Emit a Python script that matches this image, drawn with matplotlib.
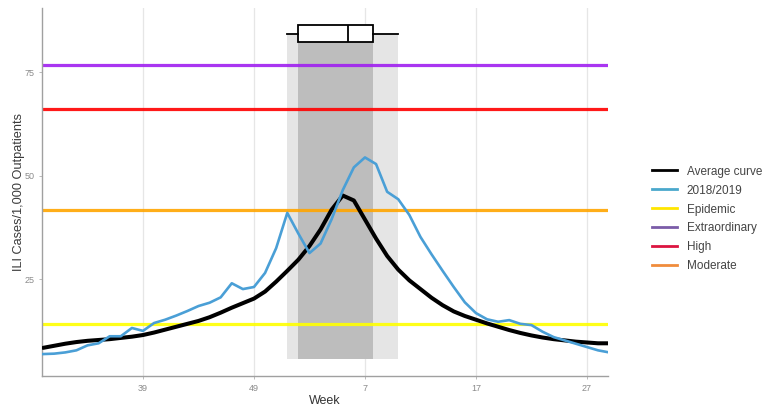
import numpy as np
import matplotlib.pyplot as plt
from matplotlib.lines import Line2D

plt.rcParams['font.family'] = ['Liberation Sans', 'DejaVu Sans']

# --- Data (week index 0 = week 30) ---
week_idx = np.arange(52)
week_labels = [(29 + i) % 52 + 1 for i in week_idx]

avg_curve = [8.4, 8.9, 9.4, 9.8, 10.1, 10.3, 10.5, 10.8, 11.1, 11.5,
             12.1, 12.8, 13.5, 14.2, 14.9, 15.8, 16.9, 18.1, 19.2, 20.3,
             22.0, 24.4, 27.0, 29.7, 33.0, 37.0, 41.8, 45.2, 44.0, 39.4,
             34.8, 30.6, 27.3, 24.7, 22.6, 20.5, 18.7, 17.2, 16.1, 15.2,
             14.3, 13.5, 12.7, 12.0, 11.4, 10.9, 10.5, 10.2, 9.9, 9.7,
             9.5, 9.5]
season_2018 = [6.9, 7.0, 7.3, 7.8, 9.0, 9.5, 11.2, 11.2, 13.2, 12.5,
               14.4, 15.2, 16.2, 17.3, 18.5, 19.3, 20.6, 24.0, 22.6, 23.1,
               26.5, 32.5, 41.0, 36.0, 31.3, 33.6, 39.5, 46.5, 52.0, 54.4,
               52.8, 46.1, 44.3, 40.5, 35.2, 31.0, 27.0, 23.1, 19.4, 16.8,
               15.3, 14.7, 15.1, 14.2, 13.9, 12.3, 11.0, 10.2, 9.4, 8.6,
               7.8, 7.3]

thresholds = {'Epidemic': 14.05, 'Extraordinary': 76.7, 'High': 66.0, 'Moderate': 41.8}
threshold_colors = {'Epidemic': '#ffff00', 'Extraordinary': '#a020f0',
                    'High': '#ff0000', 'Moderate': '#ffa500'}
legend_colors = ['#000000', '#4aa8cc', '#ffe600', '#7b5ca8', '#dc1440', '#f08c3c']
legend_labels = ['Average curve', '2018/2019', 'Epidemic', 'Extraordinary', 'High', 'Moderate']

# peak week distribution (week index)
peak_whislo, peak_q1, peak_med, peak_q3, peak_whishi = 22, 23, 27.5, 29.7, 32
band_bottom, band_top = 5.7, 84.3

tick_idx = [9, 19, 29, 39, 49]

# --- Plot ---
fig = plt.figure(figsize=(7.67, 4.09), dpi=100)
ax = fig.add_axes([42 / 767, 33 / 409, 566 / 767, 368 / 409])

ax.fill_between([peak_whislo, peak_whishi], band_bottom, band_top, color='#e5e5e5', lw=0, zorder=1)
ax.fill_between([peak_q1, peak_q3], band_bottom, band_top, color='#bdbdbd', lw=0, zorder=1)

for name, val in thresholds.items():
    ax.axhline(val, color=threshold_colors[name], lw=2.3, alpha=0.9, zorder=2)

ax.plot(week_idx, avg_curve, color='black', lw=2.9, zorder=3,
        solid_joinstyle='round', solid_capstyle='round')
ax.plot(week_idx, season_2018, color='#4a9fd6', lw=1.9, zorder=4, solid_joinstyle='round')

stats = [dict(whislo=peak_whislo, q1=peak_q1, med=peak_med, q3=peak_q3, whishi=peak_whishi)]
ax.bxp(stats, positions=[band_top], widths=4.1, orientation='horizontal',
       showfliers=False, showcaps=False, patch_artist=True,
       boxprops=dict(facecolor='white', edgecolor='black', lw=1.3),
       whiskerprops=dict(color='black', lw=1.3),
       medianprops=dict(color='black', lw=1.3), manage_ticks=False, zorder=5)

ax.set_xlim(-0.1, 50.9)
ax.set_ylim(1.6, 90.5)
ax.set_xticks(tick_idx)
ax.set_xticklabels([str(week_labels[i]) for i in tick_idx])
ax.set_yticks([25, 50, 75])
ax.tick_params(labelsize=6.5, labelcolor='#8a8a8a', color='#b0b0b0', length=2, width=0.6)
ax.grid(axis='x', color='#e6e6e6', lw=0.9, zorder=0)
ax.set_axisbelow(True)
for s in ['top', 'right']:
    ax.spines[s].set_visible(False)
for s in ['left', 'bottom']:
    ax.spines[s].set_color('#a0a0a0')
    ax.spines[s].set_linewidth(1.0)

ax.set_xlabel('Week', fontsize=9, color='#333333', labelpad=2)
ax.set_ylabel('ILI Cases/1,000 Outpatients', fontsize=9.2, color='#3a3a3a')
ax.yaxis.set_label_coords(-17 / 566, 0.5)

handles = [Line2D([], [], color=c, lw=2) for c in legend_colors]
fig.legend(handles, legend_labels, loc='center left', bbox_to_anchor=(652 / 767, 1 - 219 / 409),
           frameon=False, fontsize=8.5, handlelength=2.1, handletextpad=0.85,
           labelspacing=0.59, borderpad=0, borderaxespad=0, labelcolor='#444444')

fig.savefig('out.png', dpi=100)
